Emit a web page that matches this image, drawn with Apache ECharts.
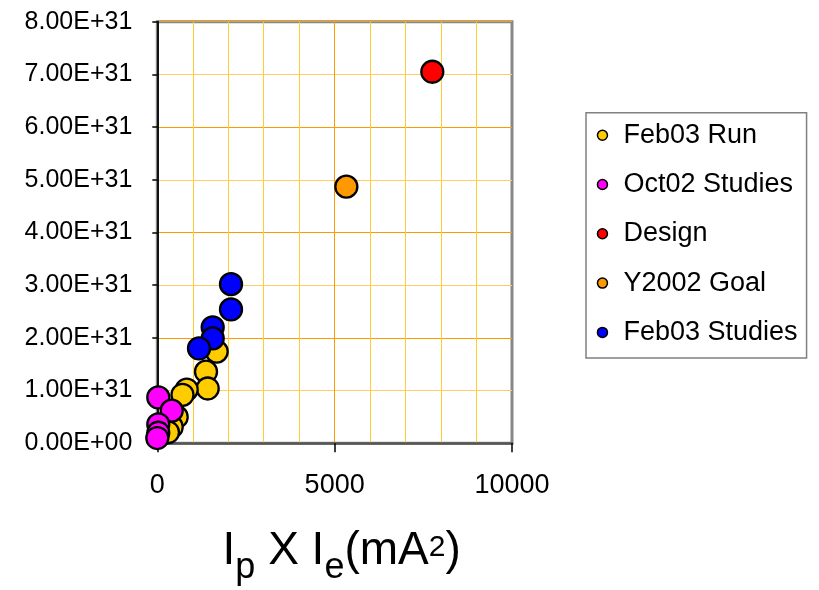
<!DOCTYPE html>
<html>
<head>
<meta charset="utf-8">
<script src="https://cdn.jsdelivr.net/npm/echarts@6/dist/echarts.min.js"></script>
<style>
  html, body { margin: 0; padding: 0; background: #fff; }
  #chart { width: 819px; height: 590px; }
</style>
</head>
<body>
<div id="chart"></div>
<script>
// Luminosity vs. product of beam currents (Ip x Ie)
const seriesNames = ['Feb03 Run', 'Oct02 Studies', 'Design', 'Y2002 Goal', 'Feb03 Studies'];
const seriesColors = ['#FFCC00', '#FF00FF', '#FF0000', '#FF9900', '#0000FF'];

const feb03RunX = [1675, 1373, 1421, 829, 710, 547, 406, 300];
const feb03RunY = [1.74e31, 1.36e31, 1.04e31, 1.02e31, 0.92e31, 0.50e31, 0.31e31, 0.21e31];

const oct02StudiesX = [28, 406, 28, 28, 0];
const oct02StudiesY = [0.87e31, 0.62e31, 0.36e31, 0.20e31, 0.10e31];

const designX = [7753];
const designY = [7.05e31];

const goalX = [5330];
const goalY = [4.87e31];

const feb03StudiesX = [2078, 2078, 1562, 1562, 1176];
const feb03StudiesY = [3.02e31, 2.54e31, 2.20e31, 1.99e31, 1.80e31];

const xTicks = [0, 5000, 10000];
const yMax = 8e31;
const yStep = 1e31;

const allX = [feb03RunX, oct02StudiesX, designX, goalX, feb03StudiesX];
const allY = [feb03RunY, oct02StudiesY, designY, goalY, feb03StudiesY];

function sci(v) {
  if (Math.abs(v) < 1e-300) return '0.00E+00';
  const e = Math.floor(Math.log10(Math.abs(v)) + 1e-9);
  const m = v / Math.pow(10, e);
  return m.toFixed(2) + 'E' + (e < 0 ? '-' : '+') + String(Math.abs(e)).padStart(2, '0');
}

const FONT = '"Liberation Sans", Arial, sans-serif';
const chart = echarts.init(document.getElementById('chart'), null, { renderer: 'canvas' });

const series = seriesNames.map((name, i) => ({
  name: name,
  type: 'scatter',
  symbol: 'circle',
  symbolSize: 22,
  itemStyle: { color: seriesColors[i], borderColor: '#000', borderWidth: 2.3, opacity: 1 },
  emphasis: { disabled: true },
  data: allX[i].map((x, k) => [x, allY[i][k]])
}));

chart.setOption({
  animation: false,
  backgroundColor: '#fff',
  grid: {
    left: 157.3, right: 307, top: 21.7, bottom: 146.7,
    outerBoundsMode: 'none',
    containLabel: false,
    show: true, borderColor: '#888', borderWidth: 3, backgroundColor: '#fff'
  },
  legend: {
    orient: 'vertical',
    left: 586, top: 112.7,
    padding: [7.5, 9, 10.5, 10.7],
    itemGap: 19.3,
    itemWidth: 10, itemHeight: 10,
    icon: 'circle',
    borderColor: '#808080', borderWidth: 1.5,
    itemStyle: { borderColor: '#000', borderWidth: 1.5 },
    textStyle: { fontSize: 27, fontFamily: FONT, color: '#000', lineHeight: 30, padding: [0, 0, 0, 11] },
    data: seriesNames
  },
  xAxis: {
    type: 'value',
    min: xTicks[0], max: xTicks[xTicks.length - 1], interval: xTicks[1] - xTicks[0],
    axisLine: { show: true, onZero: false, lineStyle: { color: '#555', width: 2.5 } },
    axisTick: { show: true, length: 9, lineStyle: { color: '#000', width: 1.5 } },
    axisLabel: { fontSize: 27, fontFamily: FONT, color: '#000', margin: 29, formatter: v => String(v) },
    splitLine: { show: true, showMaxLine: false, lineStyle: { color: '#FF9900', width: 1 } },
    minorTick: { show: false, splitNumber: 5 },
    minorSplitLine: { show: true, lineStyle: { color: '#FFCC33', width: 1 } },
    name: '{m|I}{s|p}{m| X I}{s|e}{m|(mA}{u|2}{m|)}',
    nameLocation: 'middle',
    nameGap: 85,
    nameTextStyle: {
      padding: [0, 0, 0, 14],
      rich: {
        m: { fontSize: 46, fontFamily: FONT, color: '#000', lineHeight: 60, verticalAlign: 'top' },
        s: { fontSize: 36, fontFamily: FONT, color: '#000', lineHeight: 38, padding: [22, 0, 0, 0], verticalAlign: 'top' },
        u: { fontSize: 30, fontFamily: FONT, color: '#000', lineHeight: 30, padding: [4, 0, 26, 0], verticalAlign: 'top' }
      }
    }
  },
  yAxis: {
    type: 'value',
    min: 0, max: yMax, interval: yStep,
    axisLine: { show: true, onZero: false, lineStyle: { color: '#111', width: 2 } },
    axisTick: { show: true, length: 5, lineStyle: { color: '#000', width: 1.5 } },
    axisLabel: { fontSize: 25, fontFamily: FONT, color: '#000', margin: 25, formatter: sci },
    splitLine: { show: true, showMaxLine: false, lineStyle: { color: ['#FF9900', '#FFCC66'], width: 1 } }
  },
  series: series
});
</script>
</body>
</html>
